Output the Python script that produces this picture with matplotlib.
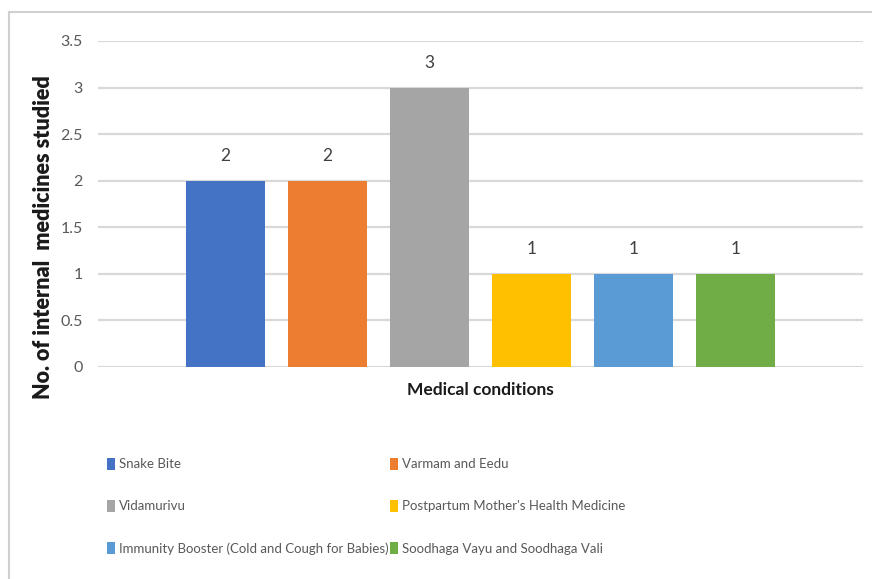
import matplotlib
matplotlib.use("Agg")
import matplotlib.pyplot as plt
from matplotlib.patches import Patch
from matplotlib.lines import Line2D

conditions = [
    "Snake Bite",
    "Varmam and Eedu",
    "Vidamurivu",
    "Postpartum Mother's Health Medicine",
    "Immunity Booster (Cold and Cough for Babies)",
    "Soodhaga Vayu and Soodhaga Vali",
]
medicines = [2, 2, 3, 1, 1, 1]
colors = ["#4472C4", "#ED7D31", "#A5A5A5", "#FFC000", "#5B9BD5", "#70AD47"]
yticks = [0, 0.5, 1, 1.5, 2, 2.5, 3, 3.5]
ytick_labels = ["0", "0.5", "1", "1.5", "2", "2.5", "3", "3.5"]

plt.rcParams["font.family"] = ["Lato", "DejaVu Sans"]

W, H = 872, 579
fig = plt.figure(figsize=(W / 100, H / 100), dpi=100)
ax = fig.add_axes([98 / W, 1 - 367 / H, (863 - 98) / W, (367 - 41) / H])

xs = list(range(len(conditions)))
bars = ax.bar(xs, medicines, width=0.775, color=colors, zorder=3)
for x, v in zip(xs, medicines):
    ax.text(x, v + 0.18, f"{v:g}", ha="center", va="bottom", fontsize=12.5, color="#404040")

ax.set_xlim(-1.25, 6.25)
ax.set_ylim(0, 3.5)
ax.set_yticks(yticks)
ax.set_yticklabels(ytick_labels, fontsize=11.5, color="#595959")
ax.set_xticks([])
ax.tick_params(axis="y", length=0, pad=11)
ax.grid(axis="y", color="#d9d9d9", linewidth=1.6, zorder=0)
for s in ax.spines.values():
    s.set_visible(False)
ax.set_axisbelow(True)

fig.text(480 / W, 1 - 390 / H, "Medical conditions", ha="center", va="center",
         fontsize=12.5, fontweight="bold", color="#1a1a1a")
fig.text(44 / W, 1 - 237 / H, "No. of internal  medicines studied", ha="center", va="center",
         rotation=90, fontsize=15.5, fontweight="heavy", color="#1a1a1a")

# chart frame (top and left edges)
fig.add_artist(Line2D([9 / W, 9 / W], [0, 1 - 12 / H], color="#d0d0d0", linewidth=1.5))
fig.add_artist(Line2D([9 / W, 1], [1 - 12 / H, 1 - 12 / H], color="#d0d0d0", linewidth=1.5))

handles = [Patch(facecolor=c) for c in colors]
order = [0, 2, 4, 1, 3, 5]
leg = fig.legend([handles[i] for i in order], [conditions[i] for i in order],
                 ncol=2, loc="upper left", bbox_to_anchor=(95 / W, 1 - 446 / H),
                 frameon=False, fontsize=9.5, handlelength=0.6, handleheight=1.0,
                 handletextpad=0.3, columnspacing=0.15, labelspacing=2.25)
for t in leg.get_texts():
    t.set_color("#595959")

fig.savefig("out.png", dpi=100, facecolor="white")
